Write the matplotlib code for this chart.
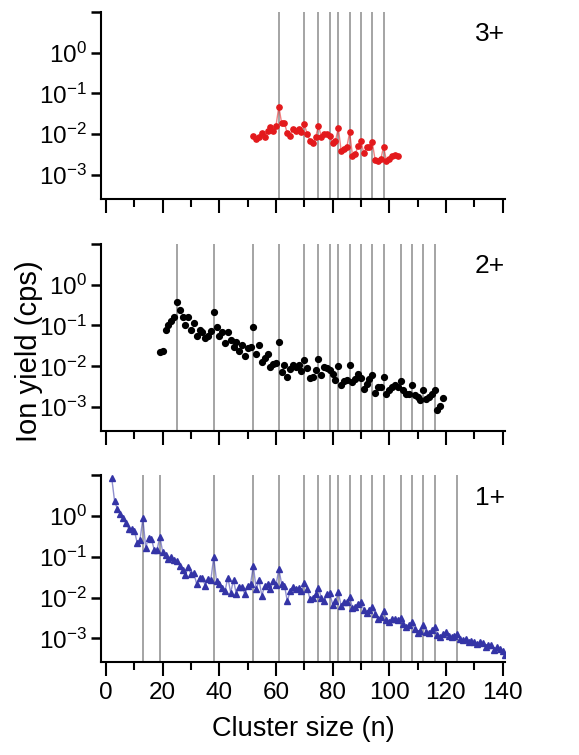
import numpy as np
import matplotlib
matplotlib.use("Agg")
import matplotlib.pyplot as plt
from matplotlib.ticker import FixedLocator, MultipleLocator, LogLocator, NullFormatter

plt.rcParams["font.family"] = ["Liberation Sans", "DejaVu Sans"]
plt.rcParams["mathtext.fontset"] = "custom"
plt.rcParams["mathtext.rm"] = "Liberation Sans"
plt.rcParams["mathtext.it"] = "Liberation Sans"

# cluster sizes (n) of each series
n_3p = np.arange(52, 104)
n_2p = np.arange(19, 120)
n_1p = np.arange(2, 142)

# log10 of ion yield (cps)
log_3p = [
    -2.03, -2.11, -2.06, -1.98, -2.06, -1.93, -1.83, -1.93, -1.79, -1.32,
    -1.73, -1.73, -1.98, -2.03, -1.87, -1.91, -1.87, -1.95, -1.76, -1.99,
    -2.16, -2.22, -2.07, -1.79, -2.06, -1.99, -1.99, -2.03, -2.22, -2.16,
    -1.85, -2.40, -2.37, -2.32, -1.95, -2.52, -2.48, -2.28, -2.16, -2.47,
    -2.32, -2.30, -2.20, -2.63, -2.65, -2.61, -2.30, -2.66, -2.61, -2.52,
    -2.50, -2.52,
]
log_2p = [
    -1.65, -1.63, -1.11, -0.98, -0.88, -0.80, -0.43, -0.62, -0.80, -1.00,
    -0.80, -1.11, -0.93, -1.27, -1.10, -1.17, -1.30, -1.25, -1.14, -0.68,
    -1.03, -1.25, -1.15, -1.43, -1.17, -1.35, -1.52, -1.41, -1.63, -1.47,
    -1.74, -1.56, -1.53, -1.04, -1.71, -1.47, -1.90, -1.79, -1.70, -2.02,
    -1.94, -1.92, -1.41, -2.14, -1.96, -2.27, -2.06, -1.96, -2.02, -1.98,
    -2.12, -1.84, -2.04, -2.28, -2.25, -2.09, -1.82, -2.22, -2.02, -2.04,
    -2.09, -2.20, -2.33, -2.00, -2.47, -2.36, -2.33, -1.98, -2.39, -2.31,
    -2.20, -2.28, -2.55, -2.43, -2.31, -2.22, -2.66, -2.51, -2.51, -2.27,
    -2.67, -2.58, -2.51, -2.47, -2.51, -2.37, -2.58, -2.69, -2.69, -2.47,
    -2.71, -2.75, -2.82, -2.57, -2.80, -2.75, -2.69, -2.57, -3.08, -2.96,
    -2.78,
]
log_1p = [
    0.93, 0.36, 0.17, 0.04, -0.06, -0.18, -0.31, -0.33, -0.37, -0.66,
    -0.58, -0.06, -0.78, -0.53, -0.56, -0.83, -0.83, -0.51, -0.89, -0.95,
    -1.05, -1.00, -1.09, -1.10, -1.22, -1.32, -1.45, -1.26, -1.43, -1.41,
    -1.67, -1.51, -1.51, -1.71, -1.55, -1.57, -1.01, -1.59, -1.67, -1.76,
    -1.84, -1.51, -1.88, -1.57, -1.92, -1.73, -1.73, -1.92, -1.71, -1.67,
    -1.22, -1.80, -1.58, -1.95, -1.72, -1.66, -1.80, -1.60, -1.70, -1.30,
    -1.67, -1.71, -2.09, -1.84, -1.73, -1.78, -1.76, -1.84, -1.65, -1.78,
    -2.03, -2.00, -1.92, -1.76, -2.00, -2.09, -1.92, -1.90, -2.17, -2.09,
    -1.87, -2.20, -2.12, -2.10, -1.99, -2.25, -2.22, -2.15, -2.12, -2.30,
    -2.38, -2.30, -2.22, -2.40, -2.53, -2.48, -2.34, -2.55, -2.59, -2.52,
    -2.52, -2.55, -2.49, -2.65, -2.73, -2.68, -2.59, -2.78, -2.88, -2.82,
    -2.67, -2.85, -2.88, -2.80, -2.73, -2.92, -2.96, -2.90, -2.84, -2.95,
    -2.97, -2.93, -2.90, -3.02, -3.04, -3.02, -3.08, -3.06, -3.10, -3.14,
    -3.10, -3.12, -3.20, -3.16, -3.15, -3.28, -3.22, -3.25, -3.32, -3.41,
]

# magic numbers marked by vertical lines
magic_3p = [61, 70, 75, 79, 82, 86, 90, 94, 98]
magic_2p = [25, 38, 52, 61, 70, 75, 79, 82, 86, 90, 94, 98, 104, 108, 112, 116]
magic_1p = [13, 19, 38, 52, 61, 70, 75, 79, 82, 86, 90, 94, 98, 104, 108, 112, 116, 124]

y_ticks = [1e-3, 1e-2, 1e-1, 1e0, 1e1]
y_labels = [r"$\mathregular{10^{-3}}$", r"$\mathregular{10^{-2}}$",
            r"$\mathregular{10^{-1}}$", r"$\mathregular{10^{0}}$", ""]

fig = plt.figure(figsize=(5.79, 7.55), dpi=100)
left, width, height = 0.1744, 0.698, 0.248
bottoms = [0.7364, 0.4291, 0.1228]

panels = [
    ("3+", n_3p, log_3p, magic_3p, dict(color="#e3191c", marker="o", ms=3.8,
                                        ls="-", mfc="#e3191c", mec="#e3191c")),
    ("2+", n_2p, log_2p, magic_2p, dict(color="black", marker="o", ms=4.2, ls="none")),
    ("1+", n_1p, log_1p, magic_1p, dict(color="#3434a6", marker="^", ms=4.4,
                                        ls="-", mfc="#3434a6", mec="#3434a6")),
]

for i, (label, n, logy, magic, style) in enumerate(panels):
    ax = fig.add_axes([left, bottoms[i], width, height])
    for m in magic:
        ax.axvline(m, color="#8c8c8c", lw=1.1, zorder=1)
    y = 10 ** np.array(logy)
    if style.get("ls") == "-":
        # lighter connecting line under the markers
        ax.plot(n, y, color=style["color"], lw=1.0, alpha=0.55, zorder=2)
        style = dict(style, ls="none")
    ax.plot(n, y, zorder=3, **style)

    ax.set_yscale("log")
    ax.set_xlim(-1.8, 140.9)
    ax.set_ylim(2.6e-4, 10)
    ax.yaxis.set_major_locator(FixedLocator(y_ticks))
    ax.set_yticklabels(y_labels)
    ax.yaxis.set_minor_locator(LogLocator(base=10, subs=np.arange(2, 10)))
    ax.yaxis.set_minor_formatter(NullFormatter())
    ax.xaxis.set_major_locator(MultipleLocator(20))
    ax.xaxis.set_minor_locator(MultipleLocator(10))

    for s in ("top", "right"):
        ax.spines[s].set_visible(False)
    for s in ("left", "bottom"):
        ax.spines[s].set_linewidth(1.5)

    ax.tick_params(axis="y", which="major", direction="out", length=7, width=1.8,
                   labelsize=17.5, pad=3)
    ax.tick_params(axis="y", which="minor", direction="out", length=4, width=1.0)
    ax.tick_params(axis="x", which="major", direction="out", length=10, width=1.5,
                   labelsize=17.5, pad=4)
    ax.tick_params(axis="x", which="minor", direction="out", length=6, width=1.5)
    if i < 2:
        ax.tick_params(axis="x", labelbottom=False)
    else:
        ax.set_xlabel("Cluster size (n)", fontsize=19.5, labelpad=9)

    ax.text(1.0, 0.88, label, transform=ax.transAxes, ha="right", va="center",
            fontsize=19)

fig.text(0.05, 0.535, "Ion yield (cps)", rotation=90, ha="center", va="center",
         fontsize=21)

fig.savefig("out.png", dpi=100)
